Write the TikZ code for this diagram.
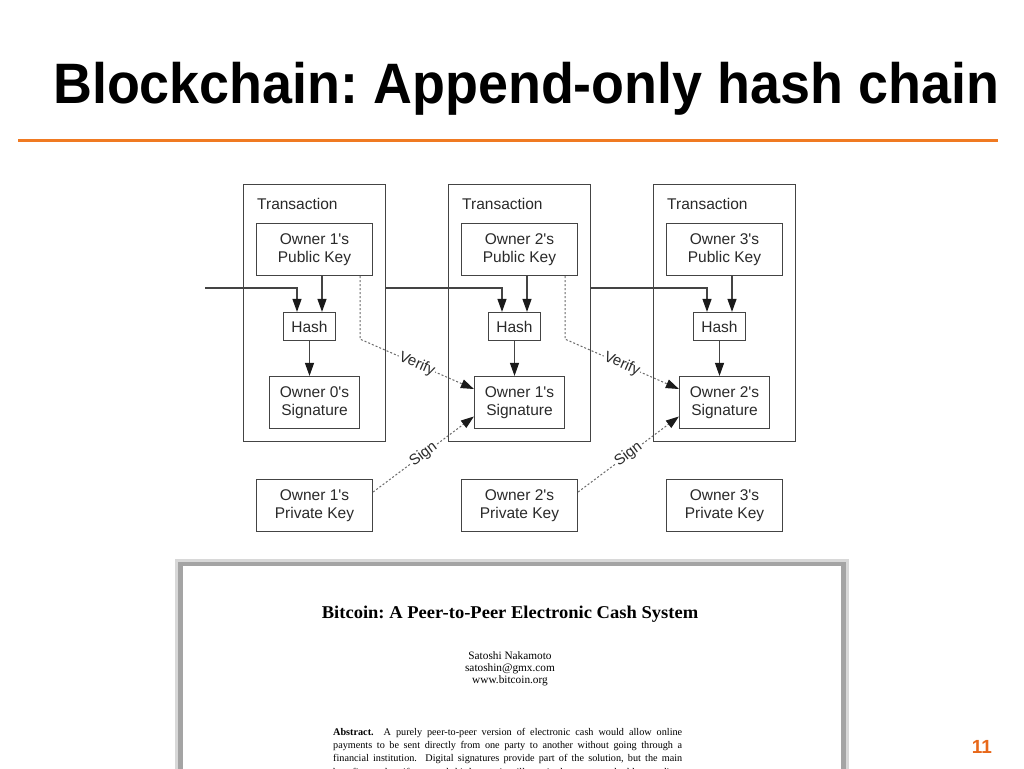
\documentclass[tikz,border=0pt]{standalone}
\usepackage{graphicx}
\usepackage{fontspec}
\setmainfont{Liberation Sans}
\newfontfamily\paperfont{Liberation Serif}
\usetikzlibrary{arrows.meta}
\frenchspacing
\definecolor{accent}{HTML}{F07A22}
\definecolor{pagenum}{HTML}{E8681A}
\definecolor{linec}{HTML}{444444}
\definecolor{tipc}{HTML}{1A1A1A}
\definecolor{txtc}{HTML}{2A2A2A}
\definecolor{dashc}{HTML}{6A6A6A}
\definecolor{shadowc}{HTML}{A4A4A4}
\definecolor{blurc}{HTML}{D8D8D8}
\begin{document}
\begin{tikzpicture}[x=1pt,y=-1pt,
  box/.style={draw=linec, line width=1.2pt, inner sep=0pt, align=center, text=txtc,
    font=\fontsize{15.5}{18}\selectfont},
  txbox/.style={draw=linec, line width=1.2pt, minimum width=142pt, minimum height=257pt, inner sep=0pt},
  keybox/.style={box, minimum width=116pt, minimum height=52pt},
  hashbox/.style={box, minimum width=52pt, minimum height=28pt},
  sigbox/.style={box, minimum width=90pt, minimum height=52pt},
  txlabel/.style={anchor=base west, inner sep=0pt, text=txtc, font=\fontsize{15.5}{18}\selectfont},
  arr/.style={draw=linec, line width=1.1pt, -{Triangle[length=13pt,width=9pt,color=tipc]}},
  dasharr/.style={draw=dashc, line width=1pt, dash pattern=on 2pt off 2pt,
    -{Triangle[length=13pt,width=9pt,color=tipc]}},
  lbl/.style={sloped, fill=white, inner sep=1pt, text=txtc, font=\fontsize{15}{18}\selectfont},
  papertext/.style={inner sep=0pt, text=black},
]
\useasboundingbox (0,0) rectangle (1024,768);
\fill[white] (0,0) rectangle (1024,768);

% title and rule
\node[anchor=base west, inner sep=0pt, font=\bfseries\fontsize{57}{60}\selectfont] (title) at (53,103)
  {\scalebox{0.945}[1]{Blockchain: Append-only hash chain}};
\draw[accent, line width=3pt] (18,140) -- (998,140);

% transactions
\foreach \i [evaluate=\i as \dx using {(\i-1)*205}, evaluate=\i as \j using {int(\i-1)}] in {1,2,3} {
  \node[txbox] (tx\i) at (314.5+\dx,313) {};
  \node[txlabel] (tl\i) at (257+\dx,209) {Transaction};
  \node[keybox] (pk\i) at (314.5+\dx,249.5) {Owner \i\textquotesingle s\\Public Key};
  \node[hashbox] (h\i) at (309.5+\dx,326.5) {Hash};
  \node[sigbox] (s\i) at (314.5+\dx,402.5) {Owner \j\textquotesingle s\\Signature};
  \node[keybox] (pv\i) at (314.5+\dx,505.5) {Owner \i\textquotesingle s\\Private Key};
  \draw[arr] ([xshift=12.5pt]h\i.north |- pk\i.south) -- ([xshift=12.5pt]h\i.north);
  \draw[arr] (h\i.south) -- (h\i.south |- s\i.north);
}

% hash chain
\coordinate (in) at (205,288);
\draw[arr] (in) -| ([xshift=-12.5pt]h1.north);
\draw[arr] (tx1.east |- in) -| ([xshift=-12.5pt]h2.north);
\draw[arr] (tx2.east |- in) -| ([xshift=-12.5pt]h3.north);

% verify / sign
\draw[dasharr] ([xshift=45.5pt]pk1.south) -- ++(0,63) -- node[lbl] {Verify} ([yshift=13.5pt]s2.west);
\draw[dasharr] ([xshift=45.5pt]pk2.south) -- ++(0,63) -- node[lbl] {Verify} ([yshift=13.5pt]s3.west);
\draw[dasharr] ([yshift=13.5pt]pv1.east) -- node[lbl] {Sign} ([yshift=-14pt]s2.west);
\draw[dasharr] ([yshift=13.5pt]pv2.east) -- node[lbl] {Sign} ([yshift=-14pt]s3.west);

% paper screenshot
\fill[blurc] (175,559) rectangle (849,772);
\fill[shadowc] (178,562) rectangle (846,772);
\fill[white] (183,566) rectangle (841,772);
\node[papertext, anchor=base, font=\paperfont\bfseries\fontsize{18}{20}\selectfont] (ptitle) at (510,618)
  {\scalebox{1.03}[1]{Bitcoin: A Peer-to-Peer Electronic Cash System}};
\node[papertext, anchor=base, font=\paperfont\fontsize{11.3}{13}\selectfont] (auth1) at (510,659) {Satoshi Nakamoto};
\node[papertext, anchor=base, font=\paperfont\fontsize{11.3}{13}\selectfont] (auth2) at (510,671.3) {satoshin@gmx.com};
\node[papertext, anchor=base, font=\paperfont\fontsize{11.3}{13}\selectfont] (auth3) at (510,683.6) {www.bitcoin.org};
\node[papertext, anchor=base west, font=\paperfont\fontsize{10.2}{13}\selectfont] (abs1) at (333,735)
  {\makebox[349pt][s]{\textbf{Abstract.}\ \ A purely peer-to-peer version of electronic cash would allow online}};
\node[papertext, anchor=base west, font=\paperfont\fontsize{10.2}{13}\selectfont] (abs2) at (333,748.4)
  {\makebox[349pt][s]{payments to be sent directly from one party to another without going through a}};
\node[papertext, anchor=base west, font=\paperfont\fontsize{10.2}{13}\selectfont] (abs3) at (333,761.8)
  {\makebox[349pt][s]{financial institution.\ \ Digital signatures provide part of the solution, but the main}};
\node[papertext, anchor=base west, font=\paperfont\fontsize{10.2}{13}\selectfont] (abs4) at (333,775.2)
  {\makebox[349pt][s]{benefits are lost if a trusted third party is still required to prevent double-spending.}};

% page number
\node[anchor=base, inner sep=0pt, text=pagenum, font=\bfseries\fontsize{19}{22}\selectfont] (pnum) at (982,753) {11};
\end{tikzpicture}
\end{document}
